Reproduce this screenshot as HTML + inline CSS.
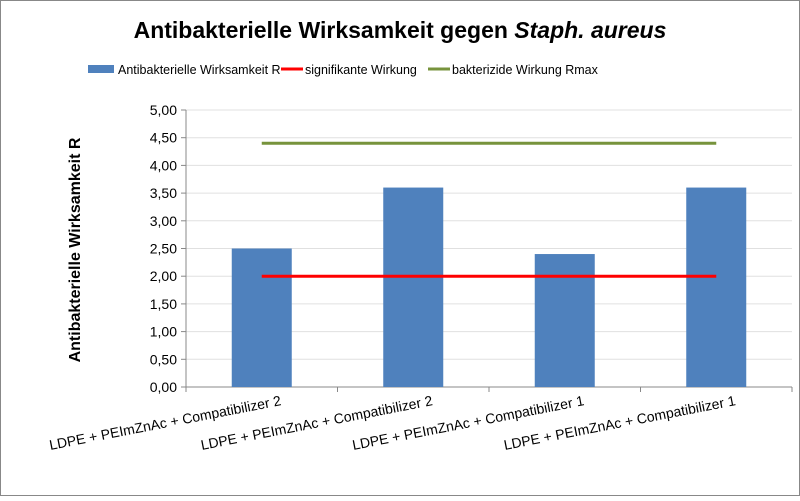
<!DOCTYPE html>
<html><head><meta charset="utf-8"><style>
body{margin:0;background:#fff;font-family:"Liberation Sans",Arial,sans-serif}
svg text{font-family:"Liberation Sans",Arial,sans-serif}
</style></head><body>
<svg id="c" width="800" height="496" viewBox="0 0 800 496">
<rect x="0.5" y="0.5" width="799" height="495" fill="#fff" stroke="#888"/>
<text x="400" y="38" text-anchor="middle" font-size="23" font-weight="bold">Antibakterielle Wirksamkeit gegen <tspan font-style="italic">Staph. aureus</tspan></text>
<g>
<rect x="88" y="65" width="26" height="8" fill="#4f81bd"/>
<text x="118" y="74" font-size="12.5">Antibakterielle Wirksamkeit R</text>
<line x1="281" y1="69" x2="303" y2="69" stroke="#ff0000" stroke-width="3"/>
<text x="305" y="74" font-size="12.5">signifikante Wirkung</text>
<line x1="428" y1="69" x2="450" y2="69" stroke="#77933c" stroke-width="3"/>
<text x="452" y="74" font-size="12.5">bakterizide Wirkung Rmax</text>
</g>
<text transform="translate(80,250) rotate(-90)" text-anchor="middle" font-size="16" font-weight="bold">Antibakterielle Wirksamkeit R</text>
<g id="grid"></g><g id="bars"></g><g id="lines"></g><g id="axes"></g>
</svg>
<script>
const categories=["LDPE + PEImZnAc + Compatibilizer 2","LDPE + PEImZnAc + Compatibilizer 2","LDPE + PEImZnAc + Compatibilizer 1","LDPE + PEImZnAc + Compatibilizer 1"];
const barValues=[2.5,3.6,2.4,3.6];
const sigValues=[2,2,2,2];
const maxValues=[4.4,4.4,4.4,4.4];
const yTicks=[0,0.5,1,1.5,2,2.5,3,3.5,4,4.5,5];
const NS="http://www.w3.org/2000/svg";
const X0=186,X1=792,Y0=387,Y1=110,YMAX=5;
const step=(X1-X0)/categories.length;
const y=v=>Y0-(v/YMAX)*(Y0-Y1);
const xc=i=>X0+step*(i+0.5);
function mk(t,a,p){const e=document.createElementNS(NS,t);for(const k in a)e.setAttribute(k,a[k]);p.appendChild(e);return e;}
const grid=document.getElementById('grid'),axes=document.getElementById('axes'),bars=document.getElementById('bars'),lines=document.getElementById('lines');
yTicks.forEach(v=>{
 const g=mk('line',{x1:X0,x2:X1,y1:y(v),y2:y(v),stroke:v===0?'#888':'#e0e0e0'},grid);
 
 
 const tk=mk('line',{x1:X0-5,x2:X0,y1:y(v),y2:y(v),stroke:'#888'},axes);
 
 
 const t=mk('text',{x:X0-9,y:y(v)+5,'text-anchor':'end','font-size':'14'},axes);
 t.textContent=v.toFixed(2).replace('.',',');
 
 
});
const ax=mk('line',{x1:X0,x2:X0,y1:Y1,y2:Y0+5,stroke:'#888'},axes);


barValues.forEach((v,i)=>{
 const r=mk('rect',{x:xc(i)-30,y:y(v),width:60,height:Y0-y(v),fill:'#4f81bd'},bars);
 
 
});
categories.forEach((c,i)=>{
 const tk=mk('line',{x1:X0+step*(i+1),x2:X0+step*(i+1),y1:Y0,y2:Y0+5,stroke:'#888'},axes);
 
 
 const t=mk('text',{'text-anchor':'end','font-size':'14',transform:`translate(${xc(i)+20},${Y0+18}) rotate(-11)`},axes);
 t.textContent=c;
 
 
});
function line(vals,color,name){
 const p=mk('polyline',{points:vals.map((v,i)=>xc(i)+','+y(v)).join(' '),fill:'none',stroke:color,'stroke-width':3},lines);
 
 
}
line(sigValues,'#ff0000','line-significant');
line(maxValues,'#77933c','line-bactericidal');
</script>
</body></html>
